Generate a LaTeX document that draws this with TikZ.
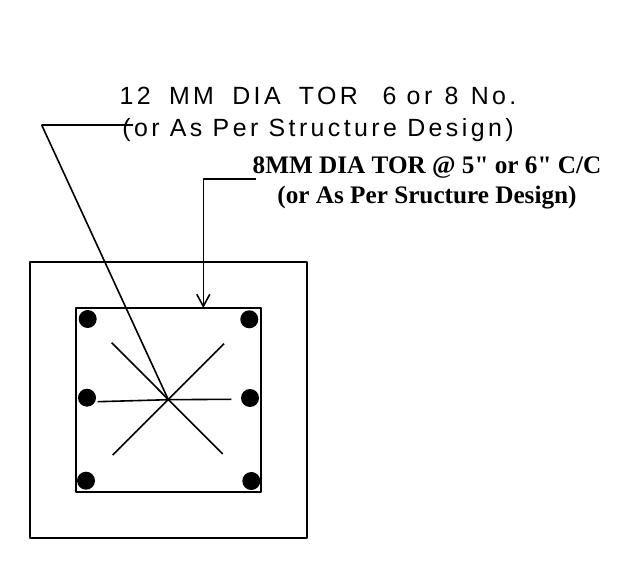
\documentclass[tikz,border=0pt]{standalone}
\usepackage{fontspec}
\newfontfamily\cadfont[LetterSpace=13.7]{Liberation Sans}
\newfontfamily\notefont{Liberation Serif}
\usetikzlibrary{arrows.meta}
\tikzset{
  wire/.style={line width=1.6bp},
  bar/.style={circle,fill=black,inner sep=0pt,minimum size=18bp},
  box/.style={draw,rectangle,line width=1.7bp,inner sep=0pt},
  cadtext/.style={font=\cadfont\fontsize{25}{32}\selectfont,inner sep=0pt,align=center},
  boldtext/.style={font=\notefont\bfseries\fontsize{25.3}{30}\selectfont,inner sep=0pt,align=center},
}
\begin{document}
\begin{tikzpicture}[>={Straight Barb[length=12bp,width=13bp]},line join=bevel]
\useasboundingbox (0bp,0bp) rectangle (637bp,585bp);
%%
\node (outer) at (168.5bp,185bp) [box,minimum width=277bp,minimum height=276bp] {};
  \node (inner) at (168.5bp,185bp) [box,minimum width=185bp,minimum height=184bp] {};
  \node (tl) at (87.7bp,266bp) [bar] {};
  \node (tr) at (249.3bp,265.7bp) [bar] {};
  \node (ml) at (87bp,187.3bp) [bar] {};
  \node (mr) at (250bp,187bp) [bar] {};
  \node (bl) at (86bp,104.3bp) [bar] {};
  \node (br) at (251.3bp,104bp) [bar] {};
  \node (main) at (318bp,471bp) [cadtext] {12\hspace{8bp} MM\hspace{8bp} DIA\hspace{8bp} TOR~~\hspace{4bp}6 or\hspace{2bp} 8\hspace{2bp} No.\\(or As Per Structure Design)};
  \node (dist) at (427bp,402bp) [boldtext] {8MM DIA TOR @ 5" or 6" C/C\\(or As Per Sructure Design)};
  \coordinate (mid) at (168.3bp,185.3bp);
  \coordinate (tieul) at (111.7bp,242.3bp);
  \coordinate (tieur) at (224bp,241.3bp);
  \coordinate (tiell) at (112.7bp,130bp);
  \coordinate (tielr) at (222.7bp,131bp);
  \coordinate (tiel) at (97.7bp,183.3bp);
  \coordinate (tier) at (231.3bp,185.7bp);
  \coordinate (bend) at (41.7bp,460bp);
  \coordinate (leadend) at (133bp,460bp);
  \coordinate (elbow) at (203.3bp,405.7bp);
  \coordinate (distend) at (256bp,405.7bp);
  \coordinate (hoop) at (203.3bp,277bp);
  \draw [wire] (tieul) -- (tielr);
  \draw [wire] (tieur) -- (tiell);
  \draw [wire] (tiel) -- (mid) -- (tier);
  \draw [wire] (leadend) -- (bend) -- (mid);
  \draw [wire,->] (distend) -- (elbow) -- (hoop);
%
\end{tikzpicture}
\end{document}
